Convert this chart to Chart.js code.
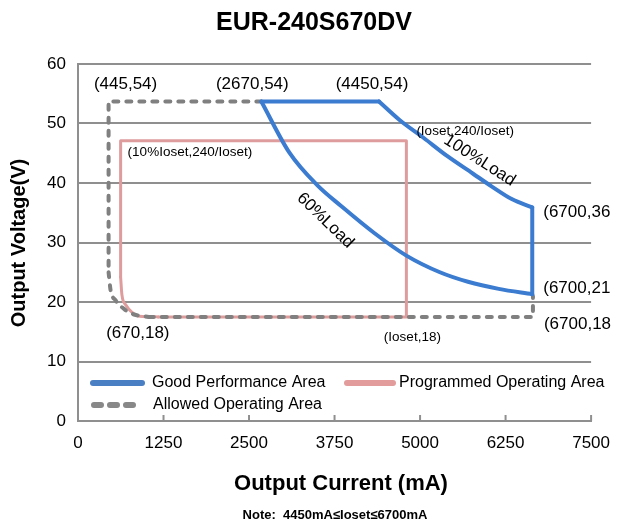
<!DOCTYPE html>
<html><head><meta charset="utf-8">
<script src="https://cdn.jsdelivr.net/npm/chart.js@4.4.0/dist/chart.umd.min.js"></script>
<style>html,body{margin:0;padding:0;background:#fff}canvas{display:block}</style>
</head><body>
<canvas id="c" width="622" height="525" style="width:622px;height:525px"></canvas>
<script>
const FONT = "'Liberation Sans', Arial, sans-serif";
const chartTitle = 'EUR-240S670DV';
const xTitle = 'Output Current (mA)';
const yTitle = 'Output Voltage(V)';
const noteText = 'Note:  4450mA\u2264Ioset\u22646700mA';
const xTicks = [0, 1250, 2500, 3750, 5000, 6250, 7500];
const yTicks = [0, 10, 20, 30, 40, 50, 60];

// Good Performance Area (blue)
const goodTopX = [2680, 4400];
const goodTopY = [53.7, 53.7];
const load100X = [4400, 4700, 5050, 5400, 5770, 6050, 6340, 6640];
const load100Y = [53.7, 50.6, 47.6, 44.5, 41.6, 39.4, 37.3, 35.9];
const goodRightX = [6640, 6640];
const goodRightY = [35.9, 21.3];
const load60X = [2680, 3090, 3500, 3850, 4330, 4800, 5290, 5700, 6150, 6640];
const load60Y = [53.7, 45.1, 39.6, 36.1, 31.6, 27.8, 25.0, 23.4, 22.2, 21.3];

// Programmed Operating Area (pink)
const progEdgeX = [1173, 4800, 4800, 623, 623];
const progEdgeY = [17.5, 17.5, 47.1, 47.1, 24.2];
const progCornerX = [623, 642, 700, 786, 900, 1173];
const progCornerY = [24.2, 21.2, 19.5, 18.3, 17.6, 17.5];

// Allowed Operating Area (grey dashed)
const allowTopX = [2680, 447, 447];
const allowTopY = [53.7, 53.7, 25.0];
const allowCornerX = [447, 476, 548, 677, 820, 1035];
const allowCornerY = [25.0, 22.0, 20.3, 18.8, 17.9, 17.5];
const allowBottomX = [1035, 6650, 6650];
const allowBottomY = [17.5, 17.5, 21.0];

const labels = [
  {t: '(445,54)', x: 447, y: 53.7, dx: 17, dy: -17, size: 17, align: 'center'},
  {t: '(2670,54)', x: 2680, y: 53.7, dx: -9, dy: -17, size: 17, align: 'center'},
  {t: '(4450,54)', x: 4400, y: 53.7, dx: -7, dy: -17, size: 17, align: 'center'},
  {t: '(Ioset,240/Ioset)', x: 4800, y: 47.1, dx: 10, dy: -9, size: 13.5, align: 'left'},
  {t: '(10%Ioset,240/Ioset)', x: 623, y: 47.1, dx: 7, dy: 12, size: 13.5, align: 'left'},
  {t: '(6700,36', x: 6640, y: 35.9, dx: 11, dy: 5, size: 17, align: 'left'},
  {t: '(6700,21', x: 6640, y: 21.3, dx: 11, dy: -6, size: 17, align: 'left'},
  {t: '(6700,18', x: 6650, y: 17.5, dx: 11, dy: 7, size: 17, align: 'left'},
  {t: '(670,18)', x: 670, y: 17.5, dx: 14, dy: 16, size: 17, align: 'center'},
  {t: '(Ioset,18)', x: 4800, y: 17.5, dx: 6, dy: 20, size: 13.5, align: 'center'}
];
const curveLabels = [
  {t: '100%Load', x: 5870, y: 43.8, angle: 32.6, size: 17},
  {t: '60%Load', x: 3614, y: 33.7, angle: 44, size: 17}
];

const BLUE = '#3b7bd0', PINK = '#de9c9c', GREY = '#808080', GRID = '#8f8f8f';

function pts(xs, ys) { return xs.map((v, i) => ({x: v, y: ys[i]})); }
function line(xs, ys, color, width, extra) {
  return Object.assign({data: pts(xs, ys), showLine: true, borderColor: color, borderWidth: width,
    pointRadius: 0, tension: 0, borderCapStyle: 'round', borderJoinStyle: 'round'}, extra || {});
}

const textPlugin = {
  id: 'texts',
  afterDraw(chart) {
    const {ctx, scales: {x, y}, chartArea: ca} = chart;
    ctx.save();
    ctx.strokeStyle = GRID; ctx.lineWidth = 2;
    xTicks.forEach(v => {
      const px = x.getPixelForValue(v);
      ctx.beginPath(); ctx.moveTo(px, ca.bottom); ctx.lineTo(px, ca.bottom - 6); ctx.stroke();
    });
    ctx.fillStyle = '#000';
    ctx.textBaseline = 'middle';
    labels.forEach(l => {
      ctx.font = l.size + 'px ' + FONT;
      ctx.textAlign = l.align;
      ctx.fillText(l.t, x.getPixelForValue(l.x) + l.dx, y.getPixelForValue(l.y) + l.dy);
    });
    curveLabels.forEach(l => {
      ctx.save();
      ctx.translate(x.getPixelForValue(l.x), y.getPixelForValue(l.y));
      ctx.rotate(l.angle * Math.PI / 180);
      ctx.font = l.size + 'px ' + FONT;
      ctx.textAlign = 'center';
      ctx.fillText(l.t, 0, 0);
      ctx.restore();
    });
    // legend
    const lx = ca.left + 15, r1 = ca.bottom - 38, r2 = ca.bottom - 16;
    ctx.lineCap = 'round'; ctx.lineWidth = 6;
    ctx.strokeStyle = '#4a7fc4';
    ctx.beginPath(); ctx.moveTo(lx, r1); ctx.lineTo(lx + 49, r1); ctx.stroke();
    ctx.strokeStyle = '#e39c9c';
    ctx.beginPath(); ctx.moveTo(lx + 254, r1); ctx.lineTo(lx + 300, r1); ctx.stroke();
    ctx.strokeStyle = '#888';
    ctx.setLineDash([7, 9]);
    ctx.beginPath(); ctx.moveTo(lx + 1, r2); ctx.lineTo(lx + 48, r2); ctx.stroke();
    ctx.setLineDash([]);
    ctx.font = '16px ' + FONT; ctx.textAlign = 'left'; ctx.fillStyle = '#000';
    ctx.fillText('Good Performance Area', lx + 59, r1);
    ctx.fillText('Programmed Operating Area', lx + 306, r1);
    ctx.fillText('Allowed Operating Area', lx + 60, r2);
    // titles
    ctx.textAlign = 'center';
    ctx.font = 'bold 25px ' + FONT;
    ctx.fillText(chartTitle, 314, 23);
    ctx.font = 'bold 22px ' + FONT;
    ctx.fillText(xTitle, 341, 484);
    ctx.font = 'bold 13px ' + FONT;
    ctx.fillText(noteText, 335, 515);
    ctx.save();
    ctx.translate(19, 243);
    ctx.rotate(-Math.PI / 2);
    ctx.font = 'bold 20px ' + FONT;
    ctx.fillText(yTitle, 0, 0);
    ctx.restore();
    ctx.restore();
  }
};

const mono = {cubicInterpolationMode: 'monotone'};
const dash = {borderDash: [5, 8]};

new Chart(document.getElementById('c'), {
  type: 'scatter',
  data: {
    datasets: [
      line(goodTopX, goodTopY, BLUE, 4),
      line(load100X, load100Y, BLUE, 4, mono),
      line(goodRightX, goodRightY, BLUE, 4),
      line(load60X, load60Y, BLUE, 4, mono),
      line(allowTopX, allowTopY, GREY, 4, dash),
      line(allowCornerX, allowCornerY, GREY, 4, Object.assign({}, dash, mono)),
      line(allowBottomX, allowBottomY, GREY, 4, dash),
      line(progEdgeX, progEdgeY, PINK, 3),
      line(progCornerX, progCornerY, PINK, 3, mono)
    ]
  },
  options: {
    responsive: false,
    animation: false,
    layout: {padding: {left: 0, right: 21, top: 64, bottom: 0}},
    plugins: {legend: {display: false}, tooltip: {enabled: false}, title: {display: false}},
    scales: {
      x: {
        type: 'linear', min: 0, max: 7500,
        afterBuildTicks: s => { s.ticks = xTicks.map(v => ({value: v})); },
        ticks: {font: {family: FONT, size: 17}, color: '#000', padding: 12, maxRotation: 0, callback: v => String(v)},
        grid: {display: false, drawTicks: false},
        border: {display: true, color: GRID, width: 2},
        afterFit: s => { s.height = 104; }
      },
      y: {
        min: 0, max: 60,
        afterBuildTicks: s => { s.ticks = yTicks.map(v => ({value: v})); },
        ticks: {font: {family: FONT, size: 17}, color: '#000', padding: 12, callback: v => String(v)},
        grid: {color: GRID, lineWidth: 2, drawTicks: false},
        border: {display: true, color: GRID, width: 2},
        afterFit: s => { s.width = 78; }
      }
    }
  },
  plugins: [textPlugin]
});
</script>
</body></html>
